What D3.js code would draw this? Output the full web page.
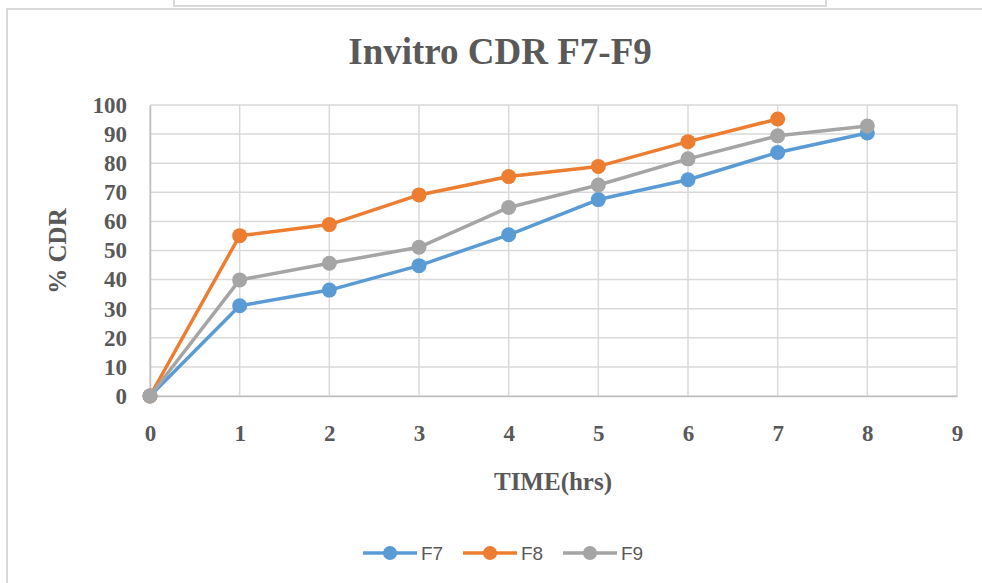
<!DOCTYPE html>
<html>
<head>
<meta charset="utf-8">
<script src="https://cdn.jsdelivr.net/npm/d3@7"></script>
<style>
  body { margin: 0; background: #fff; }
  text { font-family: "Liberation Serif", "Times New Roman", serif; fill: #595959; }
</style>
</head>
<body>
<script>
// values
var hours = [0, 1, 2, 3, 4, 5, 6, 7, 8];
var f7 = [0, 31.0, 36.4, 44.8, 55.4, 67.5, 74.3, 83.7, 90.4];
var f8 = [0, 55.1, 58.9, 69.1, 75.4, 78.9, 87.4, 95.2];
var f9 = [0, 39.9, 45.6, 51.1, 64.8, 72.5, 81.5, 89.4, 92.8];
var seriesNames = ["F7", "F8", "F9"];
var colors = ["#5B9BD5", "#ED7D31", "#A5A5A5"];
var xTicks = [0, 1, 2, 3, 4, 5, 6, 7, 8, 9];
var yTicks = [0, 10, 20, 30, 40, 50, 60, 70, 80, 90, 100];

var series = [f7, f8, f9].map(function(vals, i) {
  return {
    name: seriesNames[i],
    color: colors[i],
    points: vals.map(function(v, j) { return { x: hours[j], y: v }; })
  };
});

var width = 982, height = 583;

var svg = d3.select("body")
  .append("svg")
  .attr("width", width)
  .attr("height", height);

// frame of the chart and the box above it
svg.append("rect")
  .attr("x", 7).attr("y", 9)
  .attr("width", 1000).attr("height", 600)
  .attr("fill", "#fff")
  .attr("stroke", "#d9d9d9")
  .attr("stroke-width", 2);

svg.append("rect")
  .attr("x", 174).attr("y", -10)
  .attr("width", 652).attr("height", 16)
  .attr("fill", "#fff")
  .attr("stroke", "#d9d9d9")
  .attr("stroke-width", 2);

var x = d3.scaleLinear().domain([0, 9]).range([150, 957]);
var y = d3.scaleLinear().domain([0, 100]).range([396, 105]);

// grid
svg.append("g")
  .selectAll("line")
  .data(yTicks)
  .enter()
  .append("line")
  .attr("x1", x(0)).attr("x2", x(9))
  .attr("y1", function(d) { return y(d); })
  .attr("y2", function(d) { return y(d); })
  .attr("stroke", "#d9d9d9")
  .attr("stroke-width", 1.5);

svg.append("g")
  .selectAll("line")
  .data(xTicks)
  .enter()
  .append("line")
  .attr("y1", y(0)).attr("y2", y(100))
  .attr("x1", function(d) { return x(d); })
  .attr("x2", function(d) { return x(d); })
  .attr("stroke", "#d9d9d9")
  .attr("stroke-width", 1.5);

// axes
var yAxis = svg.append("g")
  .attr("transform", "translate(" + x(0) + ",0)")
  .call(d3.axisLeft(y).tickValues(yTicks).tickSize(0).tickPadding(23));
yAxis.select(".domain").attr("stroke", "#bfbfbf").attr("stroke-width", 1.5);
yAxis.selectAll("text")
  .attr("font-family", "Liberation Serif")
  .attr("font-weight", "bold")
  .attr("font-size", 23)
  .attr("fill", "#595959");

var xAxis = svg.append("g")
  .attr("transform", "translate(0," + y(0) + ")")
  .call(d3.axisBottom(x).tickValues(xTicks).tickSize(0).tickPadding(29));
xAxis.select(".domain").attr("stroke", "#bfbfbf").attr("stroke-width", 1.5);
xAxis.selectAll("text")
  .attr("font-family", "Liberation Serif")
  .attr("font-weight", "bold")
  .attr("font-size", 23)
  .attr("fill", "#595959");

// titles
svg.append("text")
  .attr("x", 500).attr("y", 64)
  .attr("text-anchor", "middle")
  .attr("font-weight", "bold")
  .attr("font-size", 37)
  .text("Invitro CDR F7-F9");

svg.append("text")
  .attr("x", 553).attr("y", 490)
  .attr("text-anchor", "middle")
  .attr("font-weight", "bold")
  .attr("font-size", 25)
  .text("TIME(hrs)");

svg.append("text")
  .attr("transform", "translate(66,251) rotate(-90)")
  .attr("text-anchor", "middle")
  .attr("font-weight", "bold")
  .attr("font-size", 25)
  .text("% CDR");

// lines and markers
var line = d3.line()
  .x(function(d) { return x(d.x); })
  .y(function(d) { return y(d.y); });

var groups = svg.selectAll(".series")
  .data(series)
  .enter()
  .append("g")
  .attr("class", "series");

groups.append("path")
  .attr("d", function(s) { return line(s.points); })
  .attr("fill", "none")
  .attr("stroke", function(s) { return s.color; })
  .attr("stroke-width", 3.5)
  .attr("stroke-linejoin", "round");

groups.selectAll("circle")
  .data(function(s) { return s.points.map(function(p) { return { x: p.x, y: p.y, color: s.color }; }); })
  .enter()
  .append("circle")
  .attr("cx", function(d) { return x(d.x); })
  .attr("cy", function(d) { return y(d.y); })
  .attr("r", 7.5)
  .attr("fill", function(d) { return d.color; });

// legend
var legend = svg.selectAll(".legend")
  .data(series)
  .enter()
  .append("g")
  .attr("class", "legend")
  .attr("transform", function(d, i) { return "translate(" + (363 + i * 100) + ",553)"; });

legend.append("line")
  .attr("x1", 0).attr("x2", 54)
  .attr("stroke", function(d) { return d.color; })
  .attr("stroke-width", 3.5);

legend.append("circle")
  .attr("cx", 27).attr("r", 7)
  .attr("fill", function(d) { return d.color; });

legend.append("text")
  .attr("x", 58).attr("y", 7)
  .style("font-family", "'Liberation Sans', Arial, sans-serif")
  .attr("font-size", 19)
  .text(function(d) { return d.name; });
</script>
</body>
</html>
